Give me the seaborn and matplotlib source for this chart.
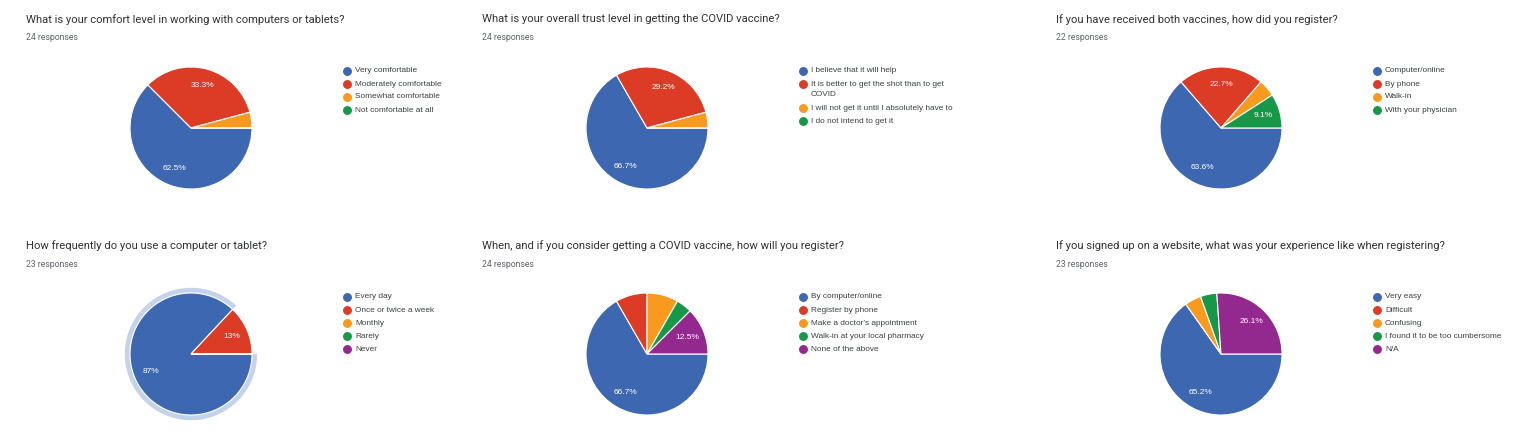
import matplotlib
matplotlib.use("Agg")
import matplotlib.pyplot as plt
import seaborn as sns
from matplotlib.lines import Line2D

# ---------------- data ----------------
titles = [
    "What is your comfort level in working with computers or tablets?",
    "What is your overall trust level in getting the COVID vaccine?",
    "If you have received both vaccines, how did you register?",
    "How frequently do you use a computer or tablet?",
    "When, and if you consider getting a COVID vaccine, how will you register?",
    "If you signed up on a website, what was your experience like when registering?",
]

q1_labels = ["Very comfortable", "Moderately comfortable", "Somewhat comfortable", "Not comfortable at all"]
q1_counts = [15, 8, 1, 0]

q2_labels = ["I believe that it will help", "It is better to get the shot than to get\nCOVID",
             "I will not get it until I absolutely have to", "I do not intend to get it"]
q2_counts = [16, 7, 1, 0]

q3_labels = ["Computer/online", "By phone", "Walk-in", "With your physician"]
q3_counts = [14, 5, 1, 2]

q4_labels = ["Every day", "Once or twice a week", "Monthly", "Rarely", "Never"]
q4_counts = [20, 3, 0, 0, 0]

q5_labels = ["By computer/online", "Register by phone", "Make a doctor's appointment",
             "Walk-in at your local pharmacy", "None of the above"]
q5_counts = [16, 2, 2, 1, 3]

q6_labels = ["Very easy", "Difficult", "Confusing", "I found it to be too cumbersome", "N/A"]
q6_counts = [15, 0, 1, 1, 6]

highlighted = [None, None, None, 0, None, None]   # slice shown with the selection ring

all_labels = [q1_labels, q2_labels, q3_labels, q4_labels, q5_labels, q6_labels]
all_counts = [q1_counts, q2_counts, q3_counts, q4_counts, q5_counts, q6_counts]

# ---------------- style ----------------
sns.set_theme(style="white")
plt.rcParams["font.family"] = ["Liberation Sans", "DejaVu Sans"]
palette = sns.color_palette(["#3e67b1", "#dc3c26", "#f79a1e", "#179848", "#93298f"])
ring_color = "#c4d2eb"

W, H = 1536, 436
fig = plt.figure(figsize=(W / 100, H / 100), dpi=100)
fig.patch.set_facecolor("white")

panel_x = [26, 482, 1056]
row_y = [19, 245]
R = 61.0          # pie radius in px
LIM = 1.15


def fx(px):
    return px / W


def fy(py):
    return 1 - py / H


def pct_fmt(p):
    return f"{round(p, 1):g}%" if p >= 9 else ""


for k in range(6):
    col, row = k % 3, k // 3
    x0, y0 = panel_x[col], row_y[row]
    labels, counts = all_labels[k], all_counts[k]
    colors = palette[:len(counts)]

    # title & response count
    fig.text(fx(x0), fy(y0 + 0.5), titles[k], fontsize=8.1, color="#303134",
             va="center", ha="left", family=["Roboto", "DejaVu Sans"])
    fig.text(fx(x0), fy(y0 + 19), f"{sum(counts)} responses", fontsize=6.2,
             color="#5f6368", va="center", ha="left", family=["Roboto", "DejaVu Sans"])

    # pie
    cx, cy = x0 + 165, y0 + 109
    S = 2 * LIM * R
    ax = fig.add_axes([fx(cx - S / 2), fy(cy + S / 2), S / W, S / H])
    ax.pie(counts, colors=colors, startangle=0, counterclock=False,
           autopct=pct_fmt, pctdistance=0.72,
           wedgeprops=dict(edgecolor="white", linewidth=0.8),
           textprops=dict(color="white", fontsize=6.0))
    if highlighted[k] is not None:
        ring_cols = [ring_color if i == highlighted[k] else (0, 0, 0, 0) for i in range(len(counts))]
        ax.pie(counts, colors=ring_cols, startangle=0, counterclock=False, radius=1.085,
               wedgeprops=dict(width=0.075, edgecolor="none"))
    ax.set_xlim(-LIM, LIM)
    ax.set_ylim(-LIM, LIM)
    ax.set_aspect("equal")
    ax.axis("off")

    # legend (Google Forms style: circle markers, wrapped labels)
    mx = x0 + 321
    ly = y0 + 52
    for i, lab in enumerate(labels):
        fig.add_artist(Line2D([fx(mx)], [fy(ly)], marker="o", markersize=5.4,
                              color=colors[i], linestyle="none",
                              transform=fig.transFigure))
        lines = lab.split("\n")
        for j, ln in enumerate(lines):
            fig.text(fx(mx + 8), fy(ly + 11 * j), ln, fontsize=5.95, color="#3c4043",
                     va="center", ha="left")
        ly += 13 + 11 * (len(lines) - 1)

fig.savefig("out.png", dpi=100, facecolor="white")
